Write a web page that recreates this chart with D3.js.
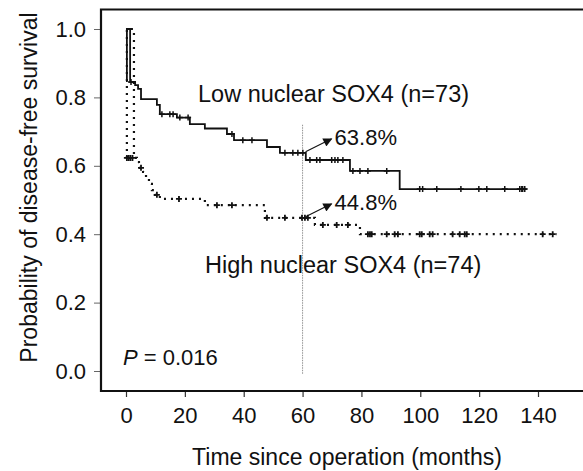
<!DOCTYPE html>
<html><head><meta charset="utf-8">
<script src="https://cdn.jsdelivr.net/npm/d3@7"></script>
<style>
html,body{margin:0;padding:0;background:#fff;}
svg{display:block;}
text{font-family:"Liberation Sans",Arial,sans-serif;fill:#111;}
</style></head>
<body>
<svg id="chart" width="583" height="471"></svg>
<script>
// ---- data ----
const xTicks = [0, 20, 40, 60, 80, 100, 120, 140];
const yTicks = [0.0, 0.2, 0.4, 0.6, 0.8, 1.0];

// Low nuclear SOX4 (solid) step curve
const lowTimes = [0.3, 0.3, 1.4, 3.1, 4.1, 5.1, 10.5, 11.5, 17.3, 21.7, 26.8, 34.3, 36.7, 47.9, 52.3, 61.1, 76.1, 93.0, 136.2];
const lowSurv  = [0.845, 1.0, 0.845, 0.836, 0.825, 0.795, 0.778, 0.751, 0.741, 0.722, 0.709, 0.693, 0.675, 0.655, 0.638, 0.617, 0.585, 0.532, 0.532];
const lowCensT = [1.7, 12.2, 14.9, 16.0, 18.3, 21.1, 36.0, 39.7, 42.8, 54.0, 56.7, 58.4, 60.1, 62.5, 64.8, 65.9, 69.9, 71.0, 72.0, 73.7, 77.1, 79.5, 82.2, 88.6, 99.8, 100.8, 105.6, 113.8, 119.9, 122.6, 128.7, 133.8, 134.5, 134.8, 135.5];
const lowCensS = [0.845, 0.751, 0.751, 0.751, 0.741, 0.741, 0.693, 0.675, 0.675, 0.638, 0.638, 0.638, 0.638, 0.617, 0.617, 0.617, 0.617, 0.617, 0.617, 0.617, 0.585, 0.585, 0.585, 0.585, 0.532, 0.532, 0.532, 0.532, 0.532, 0.532, 0.532, 0.532, 0.532, 0.532, 0.532];

// High nuclear SOX4 (dotted) step curve
const highTimes = [0.3, 0.3, 2.7, 3.7, 4.4, 5.8, 6.8, 7.8, 8.8, 9.8, 11.5, 26.8, 47.2, 64.2, 79.5, 146.3];
const highSurv  = [0.623, 1.0, 0.623, 0.611, 0.594, 0.582, 0.564, 0.547, 0.529, 0.515, 0.503, 0.485, 0.448, 0.427, 0.400, 0.400];
const highCensT = [0.3, 0.9, 1.5, 2.2, 5.1, 10.5, 18.0, 30.9, 36.0, 47.9, 54.0, 59.8, 60.8, 61.8, 66.9, 71.6, 75.4, 82.2, 82.9, 83.5, 88.6, 91.3, 92.4, 99.8, 100.5, 103.2, 104.2, 111.0, 113.4, 115.1, 115.8, 141.6, 145.0];
const highCensS = [0.623, 0.623, 0.623, 0.623, 0.594, 0.515, 0.503, 0.485, 0.485, 0.448, 0.448, 0.448, 0.448, 0.448, 0.427, 0.427, 0.427, 0.400, 0.400, 0.400, 0.400, 0.400, 0.400, 0.400, 0.400, 0.400, 0.400, 0.400, 0.400, 0.400, 0.400, 0.400, 0.400];

const markTime = 60;
const annotValues = [0.638, 0.448];
const annotLabels = ["63.8%", "44.8%"];
const groupLabels = ["Low nuclear SOX4 (n=73)", "High nuclear SOX4 (n=74)"];
const pText = "= 0.016";
const xTitle = "Time since operation (months)";
const yTitle = "Probability of disease-free survival";

// ---- layout ----
const svg = d3.select("#chart");
const x = d3.scaleLinear().domain([0, 140]).range([126, 538]);
const y = d3.scaleLinear().domain([0, 1]).range([371, 29]);
const frameL = 101, frameT = 9.5, frameB = 391, frameR = 590;

// axes
const xAxis = svg.append("g").attr("transform", `translate(0,${frameB})`)
  .call(d3.axisBottom(x).tickValues(xTicks).tickSize(6).tickPadding(10).tickFormat(d3.format("d")));
xAxis.select(".domain").remove();
xAxis.selectAll(".tick line").attr("stroke", "#333").attr("stroke-width", 1.2);
xAxis.selectAll(".tick text").style("font-size", "22px").attr("fill", "#111");

const yAxis = svg.append("g").attr("transform", `translate(${frameL},0)`)
  .call(d3.axisLeft(y).tickValues(yTicks).tickSize(7).tickPadding(8).tickFormat(d3.format(".1f")));
yAxis.select(".domain").remove();
yAxis.selectAll(".tick line").attr("stroke", "#666").attr("stroke-width", 1);
yAxis.selectAll(".tick text").style("font-size", "22px").attr("fill", "#111");

// frame
svg.append("path")
  .attr("d", `M${frameR},${frameT}H${frameL}V${frameB}H${frameR}`)
  .attr("fill", "none").attr("stroke", "#111").attr("stroke-width", 2.2);

// reference line at 60 months
svg.append("line")
  .attr("x1", x(markTime)).attr("x2", x(markTime))
  .attr("y1", y(0.72)).attr("y2", y(-0.01))
  .attr("stroke", "#777").attr("stroke-width", 0.8).attr("stroke-dasharray", "1.5,1");

const line = d3.line().x(d => x(d[0])).y(d => y(d[1])).curve(d3.curveStepAfter);

// high curve (dotted)
svg.append("path")
  .attr("d", line(highTimes.map((t, i) => [t, highSurv[i]])))
  .attr("fill", "none").attr("stroke", "#111").attr("stroke-width", 2.2)
  .attr("stroke-dasharray", "2,5");

// low curve (solid)
svg.append("path")
  .attr("d", line(lowTimes.map((t, i) => [t, lowSurv[i]])))
  .attr("fill", "none").attr("stroke", "#111").attr("stroke-width", 1.8);

// censor marks
function censor(ts, ss, size, sw) {
  svg.append("g").selectAll("path").data(ts.map((t, i) => [t, ss[i]])).join("path")
    .attr("transform", d => `translate(${x(d[0])},${y(d[1])})`)
    .attr("d", `M${-size},0H${size}M0,${-size}V${size}`)
    .attr("stroke", "#111").attr("stroke-width", sw).attr("fill", "none");
}
censor(lowCensT, lowCensS, 3, 1.5);
censor(highCensT, highCensS, 3, 1.8);

// arrows + labels
svg.append("defs").append("marker")
  .attr("id", "ah").attr("viewBox", "0 0 10 10").attr("refX", 9).attr("refY", 5)
  .attr("markerWidth", 10).attr("markerHeight", 9).attr("markerUnits", "userSpaceOnUse")
  .attr("orient", "auto")
  .append("path").attr("d", "M0,0L10,5L0,10Z").attr("fill", "#111");

annotValues.forEach((v, i) => {
  const x0 = x(markTime) + 3, y0 = y(v) - 1;
  svg.append("line").attr("x1", x0).attr("y1", y0).attr("x2", x0 + 26).attr("y2", y0 - 13)
    .attr("stroke", "#111").attr("stroke-width", 1.1).attr("marker-end", "url(#ah)");
  svg.append("text").attr("x", x0 + 29).attr("y", y0 - 7)
    .style("font-size", "22px").text(annotLabels[i]);
});

// group labels
svg.append("text").attr("x", 198).attr("y", 102).style("font-size", "23.5px").text(groupLabels[0]);
svg.append("text").attr("x", 205).attr("y", 273).style("font-size", "23.5px").text(groupLabels[1]);

// P value
const pt = svg.append("text").attr("x", 123).attr("y", 365).style("font-size", "22px");
pt.append("tspan").style("font-style", "italic").text("P");
pt.append("tspan").text(" " + pText);

// axis titles
svg.append("text").attr("x", 347).attr("y", 465).attr("text-anchor", "middle")
  .style("font-size", "23px").text(xTitle);
svg.append("text").attr("transform", "translate(37,187.5) rotate(-90)").attr("text-anchor", "middle")
  .style("font-size", "23px").text(yTitle);
</script>
</body></html>
